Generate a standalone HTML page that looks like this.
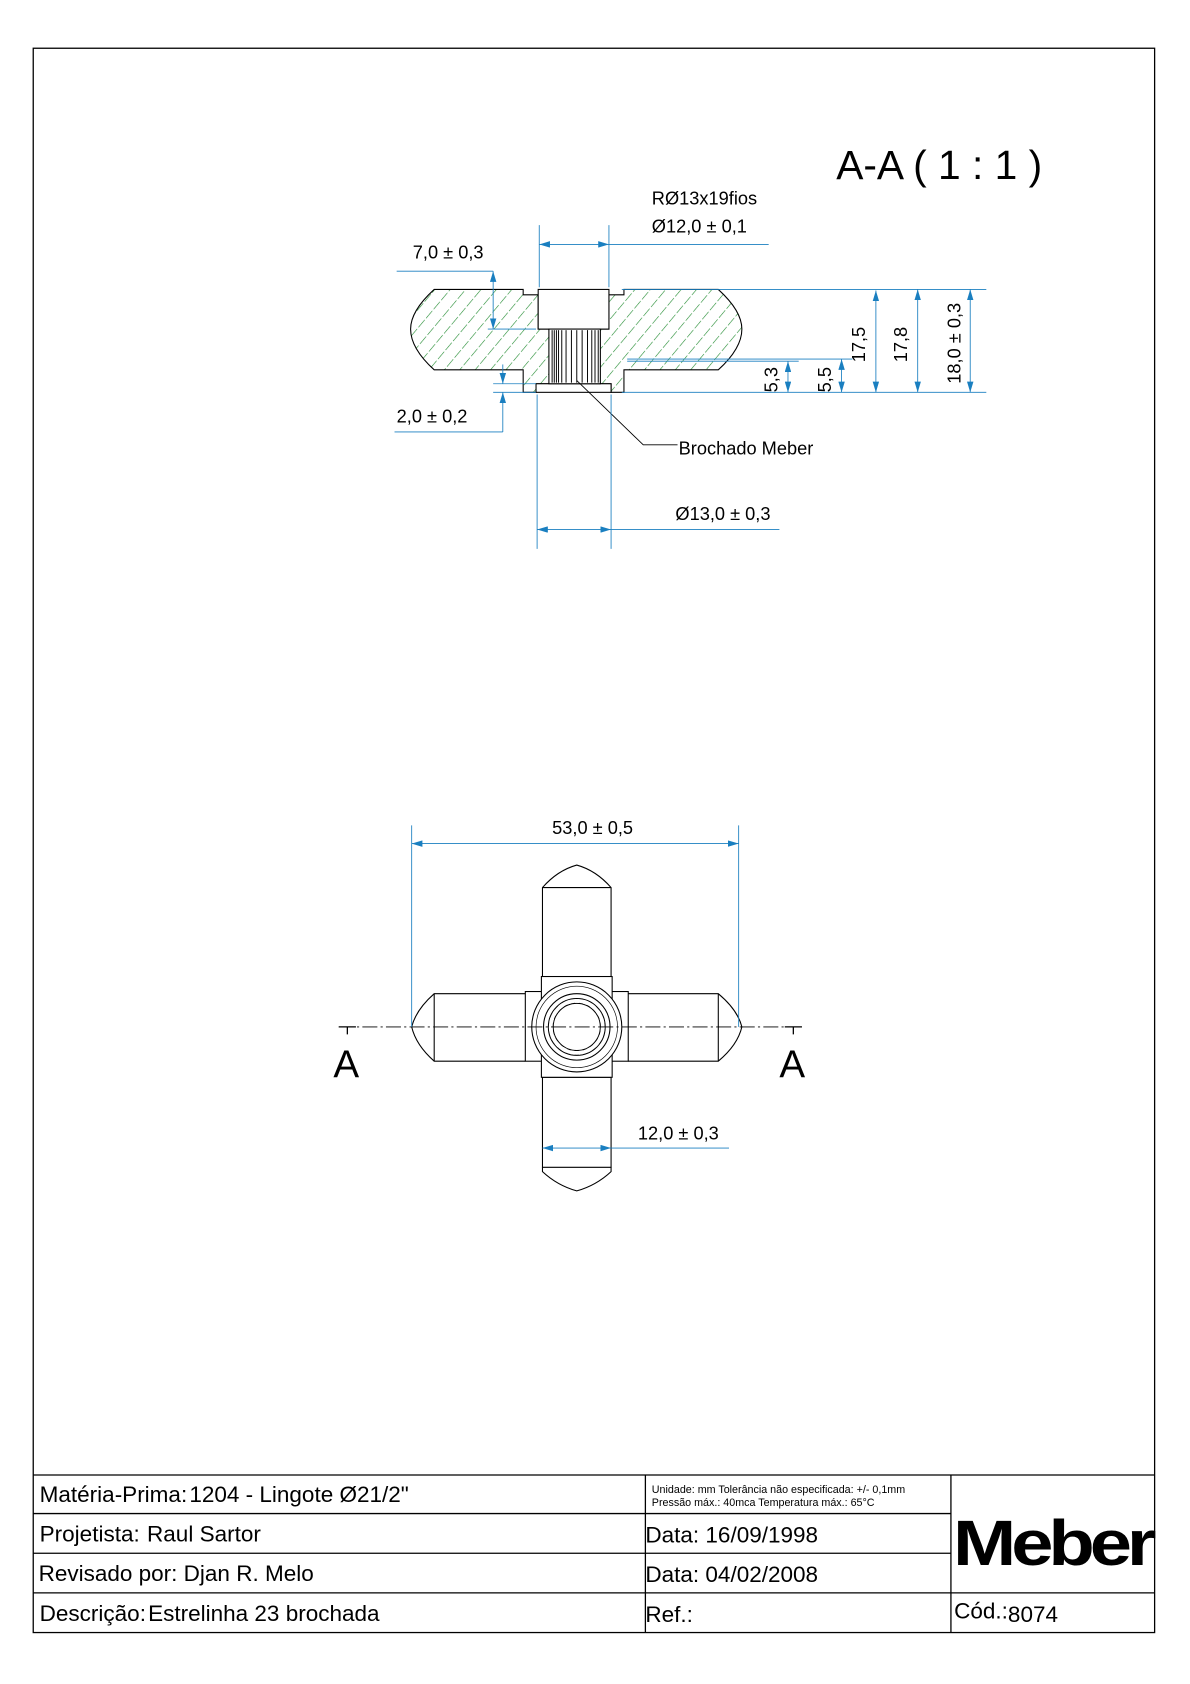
<!DOCTYPE html>
<html><head><meta charset="utf-8"><style>
html,body{margin:0;padding:0;background:#fff}
svg{display:block}
text{font-family:"Liberation Sans",Arial,sans-serif}
</style></head><body>
<svg width="1190" height="1684" viewBox="0 0 1110 1571" preserveAspectRatio="none" xmlns="http://www.w3.org/2000/svg">
<defs>
<pattern id="h" width="11" height="11" patternUnits="userSpaceOnUse" patternTransform="rotate(40)">
<line x1="0" y1="0" x2="0" y2="11" stroke="#1f8a2e" stroke-width="1.1" stroke-dasharray="5,2"/>
</pattern>
<marker id="a" markerWidth="10" markerHeight="6" refX="10" refY="3" orient="auto-start-reverse" markerUnits="userSpaceOnUse"><path d="M0,0L10,3L0,6z" fill="#1a7fc0"/></marker>
</defs>
<rect x="31" y="45" width="1046" height="1478" fill="none" stroke="#000" stroke-width="1.2"/>
<text x="780" y="167" font-size="38">A-A  ( 1 : 1 )</text>

<g stroke="#000" stroke-width="1">
<path d="M405,270 L488,270 L488,275 L502,275 L502,307 L568,307 L568,275 L582,275 L582,270 L670,270 Q692,290 692,307 Q692,325 670,345 L582,345 L582,366 L570,366 L570,358 L500,358 L500,366 L488,366 L488,345 L405,345 Q383,325 383,307 Q383,290 405,270Z" fill="url(#h)"/>
<rect x="502" y="270" width="66" height="37" fill="#fff"/>
<rect x="500" y="358" width="70" height="8" fill="#fff"/>
<rect x="512" y="307" width="48" height="51" fill="#fff"/>
</g>
<g stroke="#000" stroke-width="0.9">
<line x1="515" y1="308" x2="515" y2="357"/><line x1="517" y1="308" x2="517" y2="357"/><line x1="519" y1="308" x2="519" y2="357"/><line x1="521" y1="308" x2="521" y2="357"/><line x1="524" y1="308" x2="524" y2="357"/><line x1="528" y1="308" x2="528" y2="357"/><line x1="533" y1="308" x2="533" y2="357"/><line x1="538" y1="308" x2="538" y2="357"/><line x1="543" y1="308" x2="543" y2="357"/><line x1="548" y1="308" x2="548" y2="357"/><line x1="552" y1="308" x2="552" y2="357"/><line x1="555" y1="308" x2="555" y2="357"/><line x1="558" y1="308" x2="558" y2="357"/>
</g>
<path d="M538,355 L600,415 L632,415" fill="none" stroke="#000" stroke-width="0.8"/>
<text x="633" y="424" font-size="17">Brochado Meber</text>

<g stroke="#1a7fc0" stroke-width="0.8" fill="none">
<line x1="503" y1="210" x2="503" y2="268"/><line x1="568" y1="210" x2="568" y2="268"/>
<line x1="503" y1="228" x2="568" y2="228" marker-start="url(#a)" marker-end="url(#a)"/>
<line x1="568" y1="228" x2="717" y2="228"/>
<line x1="370" y1="253" x2="460" y2="253"/>
<line x1="460" y1="253" x2="460" y2="307" marker-start="url(#a)" marker-end="url(#a)"/>
<line x1="455" y1="307" x2="500" y2="307"/>
<line x1="368" y1="403" x2="469" y2="403"/>
<line x1="469" y1="340" x2="469" y2="358" marker-end="url(#a)"/>
<line x1="469" y1="403" x2="469" y2="366" marker-end="url(#a)"/>
<line x1="460" y1="358" x2="500" y2="358"/>
<line x1="460" y1="366" x2="500" y2="366"/>
<line x1="580" y1="270" x2="920" y2="270"/>
<line x1="580" y1="366" x2="920" y2="366"/>
<line x1="585" y1="337" x2="745" y2="337"/>
<line x1="585" y1="335" x2="795" y2="335"/>
<line x1="735" y1="337" x2="735" y2="366" marker-start="url(#a)" marker-end="url(#a)"/>
<line x1="785" y1="335" x2="785" y2="366" marker-start="url(#a)" marker-end="url(#a)"/>
<line x1="817" y1="271" x2="817" y2="366" marker-start="url(#a)" marker-end="url(#a)"/>
<line x1="856" y1="270" x2="856" y2="366" marker-start="url(#a)" marker-end="url(#a)"/>
<line x1="905" y1="270" x2="905" y2="366" marker-start="url(#a)" marker-end="url(#a)"/>
<line x1="501" y1="368" x2="501" y2="512"/><line x1="570" y1="368" x2="570" y2="512"/>
<line x1="501" y1="494" x2="570" y2="494" marker-start="url(#a)" marker-end="url(#a)"/>
<line x1="570" y1="494" x2="727" y2="494"/>
</g>
<g font-size="17">
<text x="608" y="191">RØ13x19fios</text>
<text x="608" y="217">Ø12,0 ± 0,1</text>
<text x="385" y="241">7,0 ± 0,3</text>
<text x="370" y="394">2,0 ± 0,2</text>
<text x="630" y="485">Ø13,0 ± 0,3</text>
<text transform="translate(725,366) rotate(-90)">5,3</text>
<text transform="translate(775,366) rotate(-90)">5,5</text>
<text transform="translate(807,338) rotate(-90)">17,5</text>
<text transform="translate(846,338) rotate(-90)">17,8</text>
<text transform="translate(896,358) rotate(-90)">18,0 ± 0,3</text>
</g>

<g stroke="#000" stroke-width="1" fill="#fff">
<path d="M506,1005 L506,1089 L570,1089 L570,1005Z"/>
<path d="M506,1089 L506,1093 Q520,1106 538,1111 Q556,1106 570,1093 L570,1089" fill="none"/>
<path d="M506,911 L506,828 Q520,812 538,807 Q556,812 570,828 L570,911"/>
<line x1="506" y1="828" x2="570" y2="828"/>
<path d="M490,927 L405,927 Q388,942 384,958 Q388,975 405,990 L490,990"/>
<line x1="405" y1="927" x2="405" y2="990"/>
<path d="M586,927 L670,927 Q688,942 692,958 Q688,975 670,990 L586,990"/>
<line x1="670" y1="927" x2="670" y2="990"/>
<rect x="490" y="925" width="96" height="65"/>
<rect x="505" y="911" width="66" height="94"/>
<circle cx="538" cy="958" r="42"/>
<circle cx="538" cy="958" r="38" stroke-width="0.6"/>
<circle cx="538" cy="958" r="31"/>
<circle cx="538" cy="958" r="26.5" fill="none"/>
<circle cx="538" cy="958" r="22" fill="none"/>
</g>
<circle cx="538" cy="958" r="24.25" fill="none" stroke="#fff" stroke-width="3.6" stroke-dasharray="4,4.02"/>
<line x1="316" y1="958" x2="748" y2="958" stroke="#000" stroke-width="0.8" stroke-dasharray="14,3,2,3"/>
<path d="M316,958 L332,958 M324,958 L324,965 M732,958 L748,958 M740,958 L740,965" stroke="#000" stroke-width="1.2"/>
<text x="311" y="1005" font-size="36">A</text>
<text x="727" y="1005" font-size="36">A</text>

<g stroke="#1a7fc0" stroke-width="0.8" fill="none">
<line x1="384" y1="770" x2="384" y2="958"/><line x1="689" y1="770" x2="689" y2="958"/>
<line x1="384" y1="787" x2="689" y2="787" marker-start="url(#a)" marker-end="url(#a)"/>
<line x1="506" y1="1071" x2="570" y2="1071" marker-start="url(#a)" marker-end="url(#a)"/>
<line x1="570" y1="1071" x2="680" y2="1071"/>
</g>
<text x="515" y="778" font-size="17">53,0 ± 0,5</text>
<text x="595" y="1063" font-size="17">12,0 ± 0,3</text>

<g stroke="#000" stroke-width="1.2" fill="none">
<line x1="31" y1="1376" x2="1077" y2="1376"/>
<line x1="31" y1="1412" x2="887" y2="1412"/>
<line x1="31" y1="1449" x2="887" y2="1449"/>
<line x1="31" y1="1486" x2="1077" y2="1486"/>
<line x1="602" y1="1376" x2="602" y2="1523"/>
<line x1="887" y1="1376" x2="887" y2="1523"/>
</g>
<g font-size="21">
<text x="37" y="1401">Matéria-Prima:<tspan dx="2">1204 - Lingote Ø21/2"</tspan></text>
<text x="37" y="1438">Projetista: <tspan dx="1">Raul Sartor</tspan></text>
<text x="36" y="1475">Revisado por:  Djan R. Melo</text>
<text x="37" y="1512">Descrição:<tspan dx="2">Estrelinha 23 brochada</tspan></text>
<text x="602" y="1439">Data: 16/09/1998</text>
<text x="602" y="1476">Data: 04/02/2008</text>
<text x="602" y="1513">Ref.:</text>
<text x="890" y="1510">Cód.:<tspan dy="3">8074</tspan></text>
</g>
<text x="608" y="1393" font-size="10">Unidade: mm Tolerância não especificada: +/- 0,1mm</text>
<text x="608" y="1405" font-size="10">Pressão máx.: 40mca       Temperatura máx.: 65°C</text>
<text x="889" y="1460" font-size="60" font-weight="bold" letter-spacing="-4" textLength="185" lengthAdjust="spacingAndGlyphs">Meber</text>
</svg>
</body></html>
